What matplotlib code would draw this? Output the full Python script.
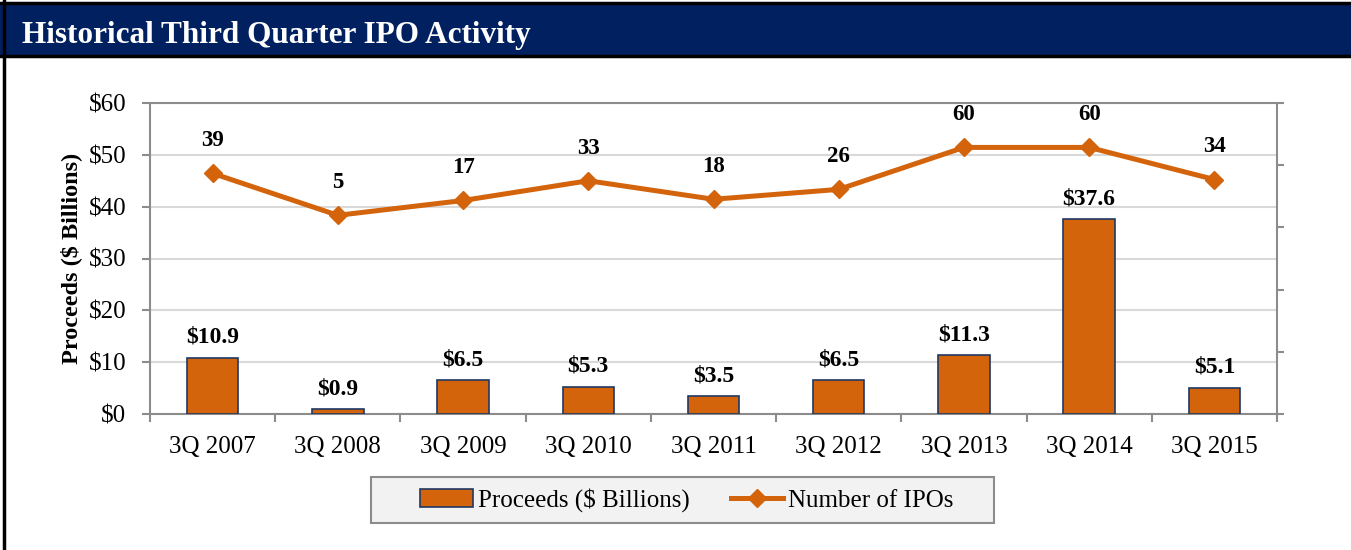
import matplotlib
matplotlib.use("Agg")
import matplotlib.pyplot as plt
from matplotlib.lines import Line2D
from matplotlib.patches import Rectangle, Patch
import numpy as np

plt.rcParams['font.family'] = ['Liberation Serif', 'DejaVu Serif']

quarters = ["3Q 2007", "3Q 2008", "3Q 2009", "3Q 2010", "3Q 2011",
            "3Q 2012", "3Q 2013", "3Q 2014", "3Q 2015"]
proceeds = [10.9, 0.9, 6.5, 5.3, 3.5, 6.5, 11.3, 37.6, 5.1]
num_ipos = [39, 5, 17, 33, 18, 26, 60, 60, 34]
y_ticks = [0, 10, 20, 30, 40, 50, 60]

orange = "#D4640C"
navy = "#002060"
edge = "#1F3864"
gray = "#8C8C8C"

W, H = 1351, 550
fig = plt.figure(figsize=(W / 100, H / 100), dpi=100)

# header band
fig.patches.append(Rectangle((0, 1 - 55 / H), 1, 52 / H, transform=fig.transFigure,
                             facecolor=navy, edgecolor="none", zorder=0))
fig.lines.append(Line2D([0, 1], [1 - 3 / H, 1 - 3 / H], transform=fig.transFigure,
                        color="black", lw=2.5))
fig.lines.append(Line2D([0, 1], [1 - 55.5 / H, 1 - 55.5 / H], transform=fig.transFigure,
                        color="black", lw=2.5))
fig.lines.append(Line2D([3.5 / W, 3.5 / W], [0, 1], transform=fig.transFigure,
                        color="black", lw=2.5))
fig.text(22 / W, 1 - 35 / H, "Historical Third Quarter IPO Activity", color="white",
         fontsize=22.5, fontweight="bold", va="center", ha="left")

ax = fig.add_axes([150 / W, 1 - 414 / H, (1277 - 150) / W, (414 - 103) / H])
x = np.arange(len(quarters))
ax.bar(x, proceeds, width=0.41, color=orange, edgecolor=edge, linewidth=1.2,
       zorder=3, label="Proceeds ($ Billions)")
ax.set_xlim(-0.5, len(quarters) - 0.5)
ax.set_ylim(0, 60)
ax.set_yticks(y_ticks)
ax.set_yticklabels(["$%d" % v for v in y_ticks], fontsize=18)
ax.set_xticks(x)
ax.set_xticklabels(quarters, fontsize=18)
ax.set_xticks(np.arange(len(quarters) + 1) - 0.5, minor=True)
ax.tick_params(axis="x", which="major", length=0, pad=16)
ax.tick_params(axis="x", which="minor", length=6, color=gray, width=1.5)
ax.tick_params(axis="y", length=6, color=gray, width=1.5, pad=11)
ax.grid(axis="y", color="#D9D9D9", lw=1.5, zorder=0)
for s in ax.spines.values():
    s.set_color(gray)
    s.set_linewidth(1.5)
ax.set_ylabel("Proceeds ($ Billions)", fontsize=17.5, fontweight="bold", labelpad=5)

for xi, v in zip(x, proceeds):
    ax.annotate("$%.1f" % v, (xi, v), xytext=(0, 7), textcoords="offset points",
                ha="center", va="bottom", fontsize=17, fontweight="bold")

ax2 = ax.twinx()
ax2.set_ylim(-156, 96)
ax2.set_yticks(np.linspace(-156, 96, 6))
ax2.set_yticklabels([])
ax2.tick_params(axis="y", length=5, color=gray, width=1.5)
for s in ax2.spines.values():
    s.set_visible(False)
ax2.plot(x, num_ipos, color=orange, lw=3.6, marker="D", ms=9,
         label="Number of IPOs", zorder=4)
for xi, v in zip(x, num_ipos):
    ax2.annotate("%d" % v, (xi, v), xytext=(0, 16), textcoords="offset points",
                 ha="center", va="bottom", fontsize=16.5, fontweight="bold")

# legend box
fig.patches.append(Rectangle((371 / W, 1 - 523 / H), 623 / W, 46 / H,
                             transform=fig.transFigure, facecolor="#F2F2F2",
                             edgecolor=gray, lw=1.5, zorder=1))
handles = [Patch(facecolor=orange, edgecolor=edge, linewidth=1.2),
           Line2D([], [], color=orange, lw=3.6, marker="D", ms=9)]
leg = fig.legend(handles, ["Proceeds ($ Billions)", "Number of IPOs"], loc="center",
                 bbox_to_anchor=(687 / W, 1 - 500 / H), ncol=2, fontsize=18,
                 frameon=False, handlelength=2.1, handleheight=0.75,
                 handletextpad=0.2, columnspacing=1.64, borderpad=0.2,
                 borderaxespad=0)
leg.set_zorder(5)

fig.savefig("out.png", dpi=100, facecolor="white")
